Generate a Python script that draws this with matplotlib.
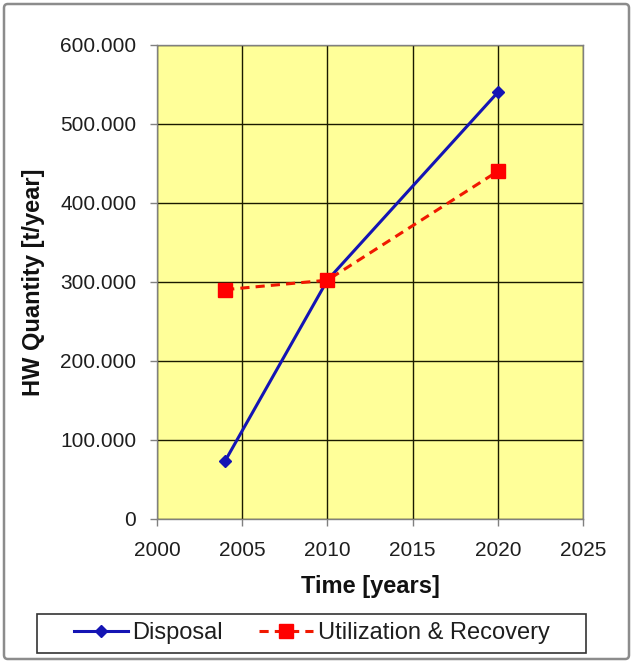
import matplotlib
matplotlib.use("Agg")
import matplotlib.pyplot as plt
from matplotlib.patches import Rectangle, FancyBboxPatch
from matplotlib.ticker import FuncFormatter, MultipleLocator

plt.rcParams['font.family'] = ['Liberation Sans', 'DejaVu Sans']

# HW quantities in t/year
years = [2004, 2010, 2020]
disposal = [73000, 302000, 540000]
utilization = [290000, 302000, 440000]

series_names = ["Disposal", "Utilization & Recovery"]
x_label = "Time [years]"
y_label = "HW Quantity [t/year]"

W, H = 633, 663
fig = plt.figure(figsize=(W / 100, H / 100), dpi=100)
fig.patch.set_facecolor('white')

# outer chart frame
frame = FancyBboxPatch((4 / W, 4 / H), (W - 8) / W, (H - 8) / H,
                       boxstyle="round,pad=0,rounding_size=0.006",
                       transform=fig.transFigure, facecolor='none',
                       edgecolor='#8c8c8c', linewidth=1.8)
fig.patches.append(frame)

ax = fig.add_axes([157 / W, (H - 518.5) / H, 426 / W, 473.5 / H])
ax.set_facecolor('#FFFF99')

ax.plot(years, disposal, color='#1414B4', linewidth=2.2, marker='D',
        markersize=6.5, markerfacecolor='#1414B4', markeredgecolor='#1414B4',
        label=series_names[0], zorder=3)
ax.plot(years, utilization, color='#F01800', linewidth=2.2, linestyle=(0, (3, 2)),
        marker='s', markersize=10, markerfacecolor='#FF0000',
        markeredgecolor='#FF0000', label=series_names[1], zorder=3)

ax.set_xlim(2000, 2025)
ax.set_ylim(0, 600000)
ax.xaxis.set_major_locator(MultipleLocator(5))
ax.yaxis.set_major_locator(MultipleLocator(100000))
ax.yaxis.set_major_formatter(FuncFormatter(
    lambda v, p: "0" if v == 0 else f"{v:,.0f}".replace(",", ".")))

ax.grid(True, color='#1a1a00', linewidth=1.0)
ax.set_axisbelow(True)
for s in ax.spines.values():
    s.set_color('#808080')
    s.set_linewidth(1.0)

ax.tick_params(axis='both', direction='out', length=5, width=1, color='#808080',
               labelsize=15, labelcolor='#1e1e1e')
ax.tick_params(axis='y', pad=10)
ax.tick_params(axis='x', pad=11)

ax.set_xlabel(x_label, fontsize=17, fontweight='bold', color='#111111')
ax.set_ylabel(y_label, fontsize=17, fontweight='bold', color='#111111')
ax.xaxis.set_label_coords(0.5, (518.5 - 586) / 473.5)
ax.xaxis.label.set_va('center')
ax.yaxis.set_label_coords((33 - 157) / 426, 0.5)
ax.yaxis.label.set_va('center')

# legend box below the plot
lx0, lx1, ly0, ly1 = 37, 586, 614, 653
fig.patches.append(Rectangle((lx0 / W, (H - ly1) / H), (lx1 - lx0) / W, (ly1 - ly0) / H,
                             transform=fig.transFigure, facecolor='white',
                             edgecolor='#333333', linewidth=1.2))
handles, labels = ax.get_legend_handles_labels()
fig.legend(handles, labels, loc='center',
           bbox_to_anchor=((lx0 + lx1) / 2 / W, 1 - (ly0 + ly1) / 2 / H),
           ncol=2, frameon=False, fontsize=17, handlelength=2.3,
           handletextpad=0.2, columnspacing=1.5, borderpad=0.2,
           labelcolor='#1e1e1e')

fig.savefig("out.png", dpi=100)
